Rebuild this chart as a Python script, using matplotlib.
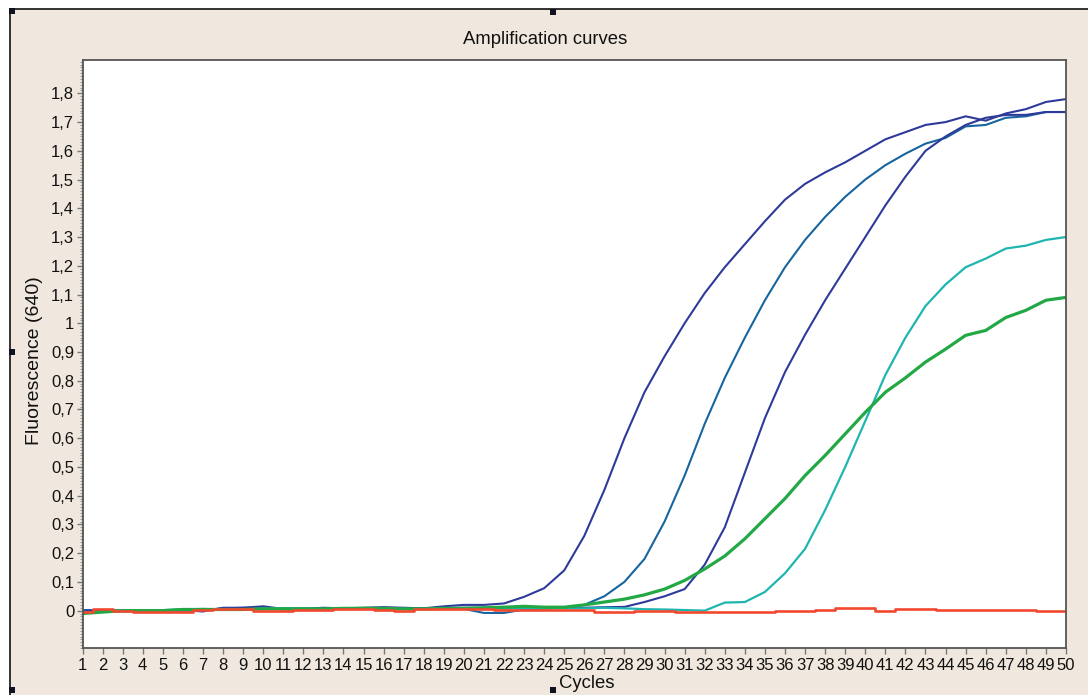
import numpy as np
import matplotlib
matplotlib.use("Agg")
import matplotlib.pyplot as plt
from matplotlib.patches import Rectangle
from matplotlib.lines import Line2D
from matplotlib.ticker import MultipleLocator, FixedLocator, FuncFormatter

plt.rcParams['font.family'] = ['Liberation Sans', 'DejaVu Sans']

cycles = list(range(1, 51))

# fluorescence readings per cycle
curve_a = [0.000, 0.000, -0.002, -0.001, 0.000, 0.002, -0.003, 0.010, 0.010, 0.015,
           0.006, 0.008, 0.008, 0.008, 0.010, 0.012, 0.010, 0.008, 0.015, 0.020,
           0.020, 0.025, 0.048, 0.078, 0.140, 0.260, 0.420, 0.600, 0.760, 0.885,
           1.000, 1.105, 1.195, 1.275, 1.355, 1.430, 1.485, 1.525, 1.560, 1.600,
           1.640, 1.665, 1.690, 1.700, 1.720, 1.705, 1.730, 1.745, 1.770, 1.780]

curve_b = [0.002, 0.000, 0.000, 0.000, 0.002, 0.004, 0.005, 0.005, 0.006, 0.008,
           0.008, 0.006, 0.006, 0.008, 0.008, 0.004, 0.006, 0.008, 0.010, 0.006,
           -0.008, -0.008, 0.004, 0.008, 0.010, 0.020, 0.050, 0.100, 0.180, 0.310,
           0.470, 0.650, 0.810, 0.950, 1.080, 1.195, 1.290, 1.370, 1.440, 1.500,
           1.550, 1.590, 1.625, 1.645, 1.685, 1.690, 1.715, 1.720, 1.735, 1.735]

curve_c = [0.000, 0.000, 0.000, 0.000, 0.000, 0.000, 0.002, 0.008, 0.010, 0.010,
           0.004, 0.006, 0.010, 0.008, 0.008, 0.010, 0.008, 0.006, 0.008, 0.010,
           0.010, 0.008, 0.008, 0.008, 0.010, 0.010, 0.012, 0.013, 0.030, 0.050,
           0.075, 0.160, 0.290, 0.480, 0.670, 0.830, 0.960, 1.080, 1.190, 1.300,
           1.410, 1.510, 1.600, 1.650, 1.690, 1.715, 1.725, 1.725, 1.735, 1.735]

curve_green = [-0.010, -0.005, 0.000, 0.000, 0.000, 0.004, 0.004, 0.004, 0.004, 0.006,
               0.006, 0.006, 0.006, 0.008, 0.008, 0.008, 0.006, 0.006, 0.008, 0.008,
               0.010, 0.012, 0.015, 0.012, 0.012, 0.020, 0.030, 0.040, 0.055, 0.075,
               0.105, 0.145, 0.190, 0.250, 0.320, 0.390, 0.470, 0.540, 0.615, 0.690,
               0.760, 0.810, 0.865, 0.910, 0.958, 0.975, 1.020, 1.045, 1.080, 1.090]

curve_turq = [-0.006, -0.004, -0.002, 0.000, 0.000, 0.004, 0.006, 0.004, 0.004, 0.008,
              0.008, 0.008, 0.006, 0.008, 0.008, 0.008, 0.006, 0.006, 0.006, 0.006,
              0.008, 0.008, 0.008, 0.008, 0.008, 0.008, 0.010, 0.008, 0.005, 0.004,
              0.002, 0.000, 0.028, 0.030, 0.065, 0.130, 0.215, 0.350, 0.500, 0.660,
              0.820, 0.950, 1.060, 1.135, 1.195, 1.225, 1.260, 1.270, 1.290, 1.300]

curve_red = [-0.003, 0.006, 0.000, -0.004, -0.004, -0.003, 0.002, 0.004, 0.004, -0.002,
             -0.002, 0.001, 0.001, 0.004, 0.004, 0.002, -0.002, 0.004, 0.006, 0.004,
             0.004, 0.002, 0.002, 0.002, 0.002, 0.002, -0.004, -0.004, 0.000, 0.000,
             -0.004, -0.004, -0.005, -0.005, -0.005, -0.002, -0.002, 0.002, 0.008, 0.008,
             -0.001, 0.007, 0.007, 0.001, 0.001, 0.001, 0.001, 0.001, -0.001, -0.001]

y_ticks = [0.0, 0.1, 0.2, 0.3, 0.4, 0.5, 0.6, 0.7, 0.8, 0.9,
           1.0, 1.1, 1.2, 1.3, 1.4, 1.5, 1.6, 1.7, 1.8]

W, H = 1088, 695
fig = plt.figure(figsize=(W / 100, H / 100), dpi=100, facecolor='white')

# beige panel with dark frame on top/left
fig.patches.append(Rectangle((10 / W, 0), 1 - 10 / W, 1 - 9 / H, transform=fig.transFigure,
                             facecolor='#f0e8de', edgecolor='none', zorder=-5))
fig.lines.append(Line2D([10 / W, 1], [1 - 9 / H, 1 - 9 / H], transform=fig.transFigure,
                        color='#111111', lw=1.2, zorder=-4))
fig.lines.append(Line2D([10 / W, 10 / W], [0, 1 - 9 / H], transform=fig.transFigure,
                        color='#111111', lw=1.2, zorder=-4))
for hx, hy in [(12, 11), (553, 12), (12, 352), (12, 690), (553, 690)]:
    fig.patches.append(Rectangle(((hx - 3) / W, 1 - (hy + 3) / H), 6 / W, 6 / H,
                                 transform=fig.transFigure, facecolor='#111122',
                                 edgecolor='none', zorder=3))

ax = fig.add_axes([82.5 / W, 47 / H, (1066 - 82.5) / W, (648 - 60) / H])
ax.set_facecolor('white')

ax.plot(cycles, curve_a, color='#2e3a9a', lw=1.5)
ax.plot(cycles, curve_b, color='#17659e', lw=1.5)
ax.plot(cycles, curve_c, color='#2e3a9a', lw=1.5)
ax.plot(cycles, curve_turq, color='#1fb5b0', lw=1.6)
ax.plot(cycles, curve_green, color='#22a845', lw=2.3)
ax.plot(cycles, curve_red, color='#f2492e', lw=1.9, drawstyle='steps-mid')

ax.set_xlim(1, 50)
ax.set_ylim(-0.130, 1.916)

ax.xaxis.set_major_locator(FixedLocator(cycles))
ax.yaxis.set_major_locator(FixedLocator(y_ticks))
ax.yaxis.set_minor_locator(MultipleLocator(0.01))


def comma_fmt(v, pos):
    if abs(v - round(v)) < 1e-9:
        return str(int(round(v)))
    return ('%.1f' % v).replace('.', ',')


ax.yaxis.set_major_formatter(FuncFormatter(comma_fmt))

ax.tick_params(axis='both', which='major', direction='out', length=4, width=1,
               color='#777777', labelsize=12, pad=2, labelcolor='#111111')
ax.tick_params(axis='y', which='minor', direction='out', length=2, width=0.8, color='#999999')
ax.tick_params(axis='x', pad=3)

for side in ['left', 'bottom', 'top', 'right']:
    ax.spines[side].set_color('#555555')
    ax.spines[side].set_linewidth(1.3)

fig.text(545 / W, 1 - 40 / H, 'Amplification curves', ha='center', va='center',
         fontsize=13.3, color='#111111')
fig.text(35 / W, 1 - 361 / H, 'Fluorescence (640)', ha='center', va='center',
         rotation=90, fontsize=14, color='#111111')
fig.text(587 / W, 1 - 684 / H, 'Cycles', ha='center', va='center',
         fontsize=13.3, color='#111111')

fig.savefig('out.png', dpi=100, facecolor=fig.get_facecolor())
